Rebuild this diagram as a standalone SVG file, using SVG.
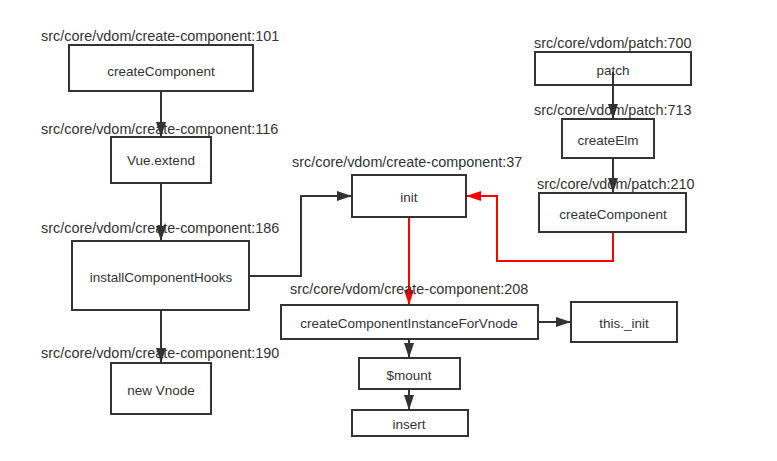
<svg xmlns="http://www.w3.org/2000/svg" width="777" height="461" viewBox="0 0 777 461">
<style>
.box{fill:#fff;stroke:#333;stroke-width:2}
.t{font-family:"Liberation Sans",Arial,sans-serif;font-size:13.5px;fill:#333;text-anchor:middle;dominant-baseline:central}
.l{font-family:"Liberation Sans",Arial,sans-serif;font-size:14.4px;fill:#333;dominant-baseline:central}
.k{fill:none;stroke:#333;stroke-width:2}
.r{fill:none;stroke:#f00;stroke-width:2}
</style>
<defs>
<marker id="ak" viewBox="0 0 15 10" refX="15" refY="5" markerWidth="15" markerHeight="10" markerUnits="userSpaceOnUse" orient="auto"><path d="M0,0 L15,5 L0,10 z" fill="#333"/></marker>
<marker id="ar" viewBox="0 0 15 10" refX="15" refY="5" markerWidth="15" markerHeight="10" markerUnits="userSpaceOnUse" orient="auto"><path d="M0,0 L15,5 L0,10 z" fill="#f00"/></marker>
</defs>
<rect width="777" height="461" fill="#fff"/>
<g id="connectors">
<path class="k" d="M161,91 V137" marker-end="url(#ak)"/>
<path class="k" d="M161,183 V241" marker-end="url(#ak)"/>
<path class="k" d="M161,310 V363" marker-end="url(#ak)"/>
<path class="k" d="M249,276 H301 V196 H352" marker-end="url(#ak)"/>
<path class="k" d="M538,322 H571" marker-end="url(#ak)"/>
<path class="k" d="M409,339 V358" marker-end="url(#ak)"/>
<path class="k" d="M409,389 V410" marker-end="url(#ak)"/>
<path class="r" d="M409,217 V305" marker-end="url(#ar)"/>
<path class="r" d="M613,232 V261 H497 V196 H466" marker-end="url(#ar)"/>
</g>
<g id="n1"><rect class="box" x="69" y="45" width="184" height="46"/><text class="t" x="161" y="71">createComponent</text><text class="l" x="41" y="36">src/core/vdom/create-component:101</text></g>
<g id="n2"><rect class="box" x="111" y="137" width="100" height="46"/><text class="t" x="161" y="160">Vue.extend</text><text class="l" x="41" y="129">src/core/vdom/create-component:116</text></g>
<g id="n3"><rect class="box" x="72" y="241" width="177" height="69"/><text class="t" x="161" y="277">installComponentHooks</text><text class="l" x="41" y="228">src/core/vdom/create-component:186</text></g>
<g id="n4"><rect class="box" x="111" y="363" width="100" height="51"/><text class="t" x="161" y="390">new Vnode</text><text class="l" x="41" y="353">src/core/vdom/create-component:190</text></g>
<g id="n5"><rect class="box" x="352" y="175" width="114" height="42"/><text class="t" x="409" y="197">init</text><text class="l" x="292" y="162">src/core/vdom/create-component:37</text></g>
<g id="n6"><rect class="box" x="281" y="305" width="257" height="34"/><text class="t" x="409" y="323">createComponentInstanceForVnode</text><text class="l" x="290" y="289">src/core/vdom/create-component:208</text></g>
<g id="n7"><rect class="box" x="571" y="302" width="106" height="40"/><text class="t" x="624" y="323">this._init</text></g>
<g id="n8"><rect class="box" x="359" y="358" width="101" height="31"/><text class="t" x="409" y="375">$mount</text></g>
<g id="n9"><rect class="box" x="352" y="410" width="116" height="26"/><text class="t" x="409" y="424">insert</text></g>
<g id="n10"><rect class="box" x="535" y="52" width="156" height="33"/><text class="t" x="613" y="70">patch</text><text class="l" x="534" y="43">src/core/vdom/patch:700</text></g>
<g id="n11"><rect class="box" x="562" y="119" width="92" height="39"/><text class="t" x="608" y="140">createElm</text><text class="l" x="534" y="110">src/core/vdom/patch:713</text></g>
<g id="n12"><rect class="box" x="539" y="193" width="147" height="39"/><text class="t" x="613" y="214">createComponent</text><text class="l" x="537" y="184">src/core/vdom/patch:210</text></g>
<g id="patch-connectors"><path class="k" d="M613,72 V119" marker-end="url(#ak)"/><path class="k" d="M613,158 V193" marker-end="url(#ak)"/></g>
</svg>
